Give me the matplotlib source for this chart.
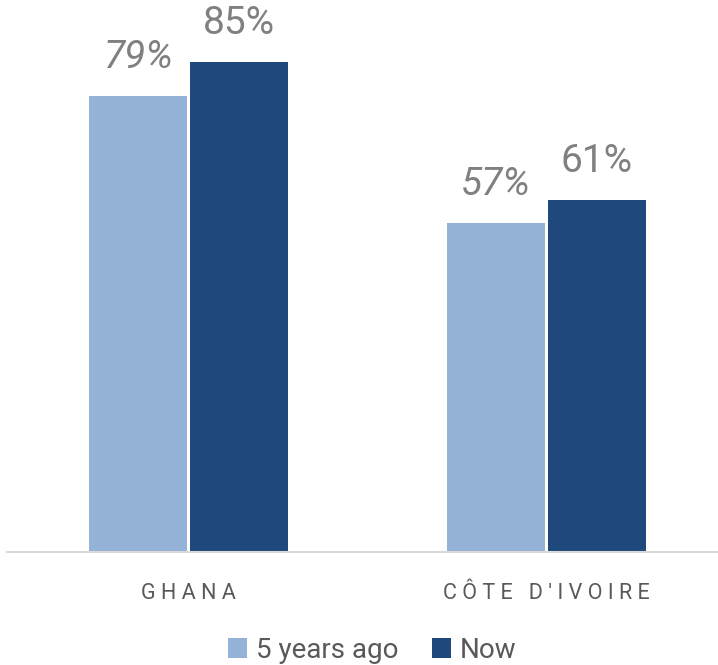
import matplotlib.pyplot as plt
import numpy as np

plt.rcParams['font.family'] = ['Roboto', 'DejaVu Sans']

countries = ['GHANA', "CÔTE D'IVOIRE"]
series_names = ['5 years ago', 'Now']
before = [79, 57]
now = [85, 61]
colors = ['#95B3D7', '#1F497D']

fig = plt.figure(figsize=(7.18, 6.65), dpi=100)
ax = fig.add_axes([7 / 718, 113 / 665, 711 / 718, 552 / 665])

x = np.arange(len(countries))
w = 0.274
off = w / 2 + 0.004
b1 = ax.bar(x - off, before, w, color=colors[0], label=series_names[0])
b2 = ax.bar(x + off, now, w, color=colors[1], label=series_names[1])

for rect, v in zip(b1, before):
    ax.annotate(f'{v}%', (rect.get_x() + rect.get_width() / 2, v),
                xytext=(0, 20), textcoords='offset pixels', ha='center', va='bottom',
                fontsize=28, color='#808080', style='italic')
for rect, v in zip(b2, now):
    ax.annotate(f'{v}%', (rect.get_x() + rect.get_width() / 2, v),
                xytext=(0, 20), textcoords='offset pixels', ha='center', va='bottom',
                fontsize=28, color='#808080')

ax.set_xlim(-0.506, 1.48)
ax.set_ylim(0, 95.7)
ax.set_xticks(x)
# letter-spaced category labels, like the original
ax.set_xticklabels([' '.join(c) for c in countries], fontsize=15.5, color='#595959')
ax.tick_params(axis='x', length=0, pad=22)
ax.set_yticks([])
for s in ['top', 'right', 'left']:
    ax.spines[s].set_visible(False)
ax.spines['bottom'].set_color('#D9D9D9')
ax.spines['bottom'].set_linewidth(1.5)

fig.legend(loc='center', bbox_to_anchor=(372 / 718, 15 / 665), ncol=2, frameon=False,
           fontsize=20, handlelength=0.7, handleheight=0.7, handletextpad=0.3,
           columnspacing=1.2, labelcolor='#595959', borderaxespad=0)

fig.savefig('out.png', dpi=100)
